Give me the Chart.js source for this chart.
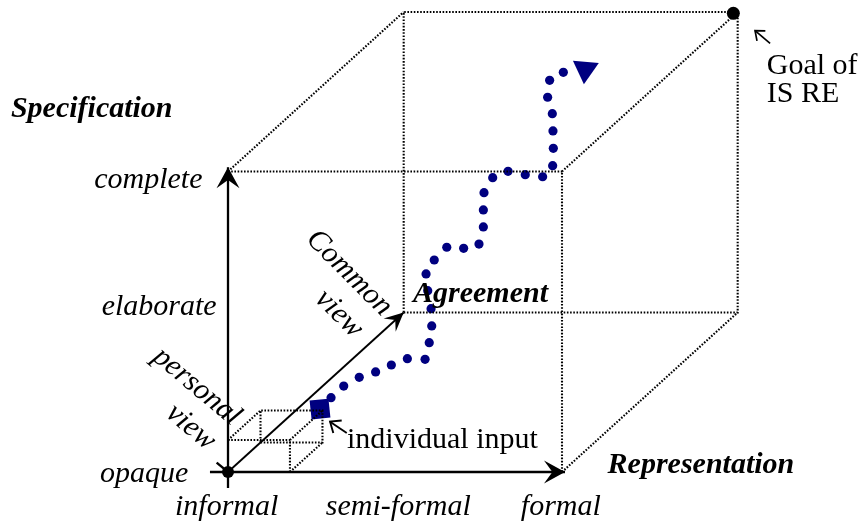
<!DOCTYPE html>
<html>
<head>
<meta charset="utf-8">
<script src="https://cdn.jsdelivr.net/npm/chart.js@4.4.1/dist/chart.umd.min.js"></script>
<style>
  html, body { margin: 0; padding: 0; background: #fff; }
  canvas { display: block; }
</style>
</head>
<body>
<canvas id="cube" width="864" height="532"></canvas>
<script>
// front face: representation (x) by specification (y), depth = agreement
const representationTicks = ['informal', 'semi-formal', 'formal'];
const specificationTicks = ['opaque', 'elaborate', 'complete'];
const agreementTicks = [['personal', 'view'], ['Common', 'view']];
const axisNames = ['Representation', 'Specification', 'Agreement'];

// how one unit of agreement shows on the page (oblique projection)
const depth = [1.052, 1.062];

// the dotted route from the individual input to the goal
const pathX = [0.617, 0.693, 0.786, 0.884, 0.978, 1.074, 1.180, 1.205, 1.220, 1.216,
               1.196, 1.186, 1.235, 1.310, 1.411, 1.503, 1.529, 1.529, 1.533, 1.585,
               1.677, 1.780, 1.884, 1.944, 1.948, 1.946, 1.942, 1.914, 1.926, 2.008];
const pathY = [0.495, 0.572, 0.630, 0.666, 0.712, 0.754, 0.750, 0.861, 0.972, 1.087,
               1.207, 1.318, 1.411, 1.496, 1.489, 1.517, 1.631, 1.744, 1.859, 1.959,
               2.001, 1.979, 1.965, 2.039, 2.154, 2.270, 2.385, 2.494, 2.607, 2.660];
const pathEnd = [2.139, 2.680];
const inputPoint = [0.551, 0.419];
const goalPoint = [3.026, 3.053];

// small box round the origin: width, height, share of depth
const personalBox = [0.371, 0.213, 0.185];

const W = representationTicks.length - 1;
const H = specificationTicks.length - 1;

function corner(x, y, d) {
    return { x: x + d * depth[0], y: y + d * depth[1] };
}

function boxEdges(w, h, d) {
    return [
        [corner(0, h, 0), corner(w, h, 0)],
        [corner(w, 0, 0), corner(w, h, 0)],
        [corner(0, 0, d), corner(w, 0, d), corner(w, h, d), corner(0, h, d), corner(0, 0, d)],
        [corner(0, h, 0), corner(0, h, d)],
        [corner(w, h, 0), corner(w, h, d)],
        [corner(w, 0, 0), corner(w, 0, d)]
    ];
}

function lineSet(points, extra) {
    return Object.assign({
        data: points,
        showLine: true,
        pointRadius: 0,
        borderColor: '#000',
        borderWidth: 2.1,
        borderDash: [1.6, 1.6],
        tension: 0,
        fill: false
    }, extra);
}

const datasets = [];
boxEdges(W, H, 1).forEach(e => datasets.push(lineSet(e)));
boxEdges(personalBox[0], personalBox[1], personalBox[2]).forEach(e => datasets.push(lineSet(e)));

// solid axes
datasets.push(lineSet([{ x: 0, y: -0.106 }, { x: 0, y: 2.028 }],
    { borderDash: [], borderWidth: 2.3, arrowHead: { length: 21, width: 11.5 } }));
datasets.push(lineSet([{ x: -0.108, y: 0 }, { x: 2.018, y: 0 }],
    { borderDash: [], borderWidth: 2.3, arrowHead: { length: 21, width: 11.5 } }));
datasets.push(lineSet([{ x: 0, y: 0 }, corner(0, 0, 1)],
    { borderDash: [], borderWidth: 1.9, arrowHead: { length: 19, width: 9 } }));
datasets.push(lineSet([{ x: 0, y: 0 }, { x: -0.068, y: 0.062 }],
    { borderDash: [], borderWidth: 2.3 }));

// pointer arrows for the notes
datasets.push(lineSet([{ x: 0.711, y: 0.260 }, { x: 0.611, y: 0.335 }],
    { borderDash: [], borderWidth: 1.9, arrowHead: { length: 9, width: 7.5, open: true } }));
datasets.push(lineSet([{ x: 3.246, y: 2.853 }, { x: 3.156, y: 2.937 }],
    { borderDash: [], borderWidth: 1.7, arrowHead: { length: 8, width: 6.5, open: true } }));

// dotted route
datasets.push({
    data: pathX.map((x, i) => ({ x: x, y: pathY[i] })),
    pointRadius: 4.6,
    pointBackgroundColor: '#000080',
    pointBorderWidth: 0
});
datasets.push({
    data: [{ x: pathEnd[0], y: pathEnd[1] }],
    pointStyle: 'triangle',
    rotation: 185,
    pointRadius: 15,
    pointBackgroundColor: '#000080',
    pointBorderWidth: 0
});
datasets.push({
    data: [{ x: inputPoint[0], y: inputPoint[1] }],
    pointStyle: 'rect',
    rotation: -6,
    pointRadius: 13.4,
    pointBackgroundColor: '#000080',
    pointBorderWidth: 0
});
datasets.push({
    data: [{ x: 0, y: 0 }, { x: goalPoint[0], y: goalPoint[1] }],
    pointRadius: [6, 6.5],
    pointBackgroundColor: '#000',
    pointBorderWidth: 0
});

const serif = '"Liberation Serif", "Times New Roman", serif';
const labels = [
    { text: axisNames[1], at: [-0.816, 2.365], font: 'italic bold 30px ' + serif },
    { text: specificationTicks[2], at: [-0.477, 1.888], font: 'italic 30px ' + serif },
    { text: specificationTicks[1], at: [-0.412, 1.045], font: 'italic 30px ' + serif },
    { text: specificationTicks[0], at: [-0.502, -0.065], font: 'italic 30px ' + serif },
    { text: representationTicks[0], at: [-0.008, -0.286], font: 'italic 30px ' + serif },
    { text: representationTicks[1], at: [1.020, -0.286], font: 'italic 30px ' + serif },
    { text: representationTicks[2], at: [1.993, -0.286], font: 'italic 30px ' + serif },
    { text: axisNames[0], at: [2.832, -0.007], font: 'italic bold 30px ' + serif },
    { text: axisNames[2], at: [1.512, 1.133], font: 'italic bold 30px ' + serif },
    { text: 'individual input', at: [1.284, 0.158], font: '30px ' + serif },
    { text: 'Goal of', at: [3.226, 2.649], font: '30px ' + serif, align: 'left' },
    { text: 'IS RE', at: [3.226, 2.465], font: '30px ' + serif, align: 'left' },
    { text: agreementTicks[1][0], at: [0.725, 1.324], font: 'italic 30px ' + serif, rotate: 45, baseline: 'middle' },
    { text: agreementTicks[1][1], at: [0.665, 1.052], font: 'italic 30px ' + serif, rotate: 45, baseline: 'middle' },
    { text: agreementTicks[0][0], at: [-0.187, 0.568], font: 'italic 30px ' + serif, rotate: 40, baseline: 'middle' },
    { text: agreementTicks[0][1], at: [-0.223, 0.298], font: 'italic 30px ' + serif, rotate: 40, baseline: 'middle' }
];

const arrowHeads = {
    id: 'arrowHeads',
    afterDatasetsDraw(chart) {
        const ctx = chart.ctx;
        chart.data.datasets.forEach((ds, i) => {
            if (!ds.arrowHead) return;
            const pts = chart.getDatasetMeta(i).data;
            const tip = pts[pts.length - 1];
            const prev = pts[pts.length - 2];
            const h = ds.arrowHead;
            ctx.save();
            ctx.translate(tip.x, tip.y);
            ctx.rotate(Math.atan2(tip.y - prev.y, tip.x - prev.x));
            ctx.beginPath();
            if (h.open) {
                ctx.moveTo(-h.length, -h.width);
                ctx.lineTo(0, 0);
                ctx.lineTo(-h.length, h.width);
                ctx.strokeStyle = ds.borderColor;
                ctx.lineWidth = ds.borderWidth;
                ctx.stroke();
            } else {
                ctx.moveTo(0, 0);
                ctx.lineTo(-h.length, -h.width);
                ctx.lineTo(-h.length * 0.6, 0);
                ctx.lineTo(-h.length, h.width);
                ctx.closePath();
                ctx.fillStyle = ds.borderColor;
                ctx.fill();
            }
            ctx.restore();
        });
    }
};

const textLabels = {
    id: 'textLabels',
    afterDraw(chart) {
        const ctx = chart.ctx;
        const sx = chart.scales.x, sy = chart.scales.y;
        labels.forEach(l => {
            ctx.save();
            ctx.translate(sx.getPixelForValue(l.at[0]), sy.getPixelForValue(l.at[1]));
            ctx.rotate((l.rotate || 0) * Math.PI / 180);
            ctx.font = l.font;
            ctx.textAlign = l.align || 'center';
            ctx.textBaseline = l.baseline || 'alphabetic';
            ctx.fillStyle = '#000';
            ctx.fillText(l.text, 0, 0);
            ctx.restore();
        });
    }
};

new Chart(document.getElementById('cube'), {
    type: 'scatter',
    data: { datasets: datasets },
    options: {
        responsive: false,
        animation: false,
        events: [],
        layout: { padding: 0, autoPadding: false },
        plugins: { legend: { display: false }, tooltip: { enabled: false } },
        scales: {
            x: { type: 'linear', display: false, min: -1.3653, max: 3.8084 },
            y: { type: 'linear', display: false, min: -0.3993, max: 3.1414 }
        }
    },
    plugins: [arrowHeads, textLabels]
});
</script>
</body>
</html>
